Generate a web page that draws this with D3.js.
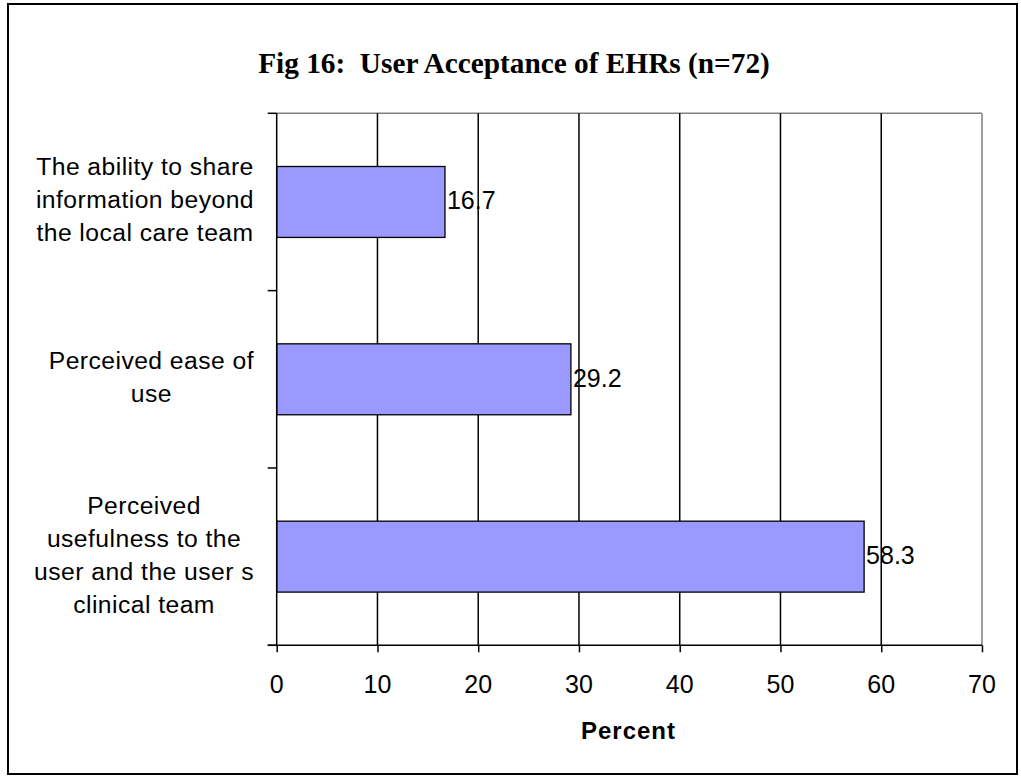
<!DOCTYPE html>
<html>
<head>
<meta charset="utf-8">
<script src="https://cdn.jsdelivr.net/npm/d3@7"></script>
<style>
  html, body { margin: 0; padding: 0; background: #fff; }
  svg { display: block; }
  text { white-space: pre; }
</style>
</head>
<body>
<svg id="chart" width="1021" height="777"></svg>
<script>
const categories = [
  ["The ability to share", "information beyond", "the local care team"],
  ["Perceived ease of", "use"],
  ["Perceived", "usefulness to the", "user and the user s", "clinical team"]
];
const categoryKeys = ["share", "ease", "usefulness"];
const values = [16.7, 29.2, 58.3];
const xTicks = [0, 10, 20, 30, 40, 50, 60, 70];
const titleText = "Fig 16:  User Acceptance of EHRs (n=72)";
const xTitle = "Percent";

const svg = d3.select("#chart");
const W = 1021, H = 777;
svg.append("rect").attr("width", W).attr("height", H).attr("fill", "#fff");

// outer frame
svg.append("rect")
  .attr("x", 8).attr("y", 4).attr("width", 1009).attr("height", 770)
  .attr("fill", "none").attr("stroke", "#000").attr("stroke-width", 2);

const plot = { left: 276.7, right: 982, top: 113.3, bottom: 645.3 };

const x = d3.scaleLinear().domain([0, 70]).range([plot.left, plot.right]);
const y = d3.scaleBand().domain(categoryKeys).range([plot.top, plot.bottom])
  .paddingInner(0.6).paddingOuter(0.3);

// plot area border (gray top & right)
svg.append("line").attr("x1", plot.left).attr("x2", plot.right)
  .attr("y1", plot.top).attr("y2", plot.top).attr("stroke", "#808080").attr("stroke-width", 1.5);
svg.append("line").attr("x1", plot.right).attr("x2", plot.right)
  .attr("y1", plot.top).attr("y2", plot.bottom).attr("stroke", "#808080").attr("stroke-width", 1.5);

// gridlines
svg.append("g").selectAll("line").data(xTicks.filter(t => t > 0 && t < 70)).join("line")
  .attr("x1", d => x(d)).attr("x2", d => x(d))
  .attr("y1", plot.top).attr("y2", plot.bottom)
  .attr("stroke", "#000").attr("stroke-width", 1.5);

// bars
svg.append("g").selectAll("rect").data(values).join("rect")
  .attr("x", x(0))
  .attr("y", (d, i) => y(categoryKeys[i]))
  .attr("width", d => x(d) - x(0))
  .attr("height", y.bandwidth())
  .attr("fill", "#9999FF").attr("stroke", "#000").attr("stroke-width", 1.3);

// x axis
const xAxis = d3.axisBottom(x).tickValues(xTicks).tickSize(7).tickPadding(0).tickFormat(d3.format("d"));
const gx = svg.append("g").attr("transform", `translate(0,${plot.bottom})`).call(xAxis);
gx.select(".domain").remove();
gx.selectAll(".tick line").attr("stroke", "#000").attr("stroke-width", 1.5);
gx.selectAll(".tick text").remove();
svg.append("line").attr("x1", plot.left - 9).attr("x2", plot.right)
  .attr("y1", plot.bottom).attr("y2", plot.bottom).attr("stroke", "#000").attr("stroke-width", 1.5);
svg.append("g").selectAll("text").data(xTicks).join("text")
  .attr("x", d => x(d)).attr("y", 693)
  .attr("text-anchor", "middle")
  .attr("font-family", "Liberation Sans, Arial, sans-serif")
  .attr("font-size", 25).attr("fill", "#000")
  .text(d => d);

// y axis line + ticks at category boundaries
svg.append("line").attr("x1", plot.left).attr("x2", plot.left)
  .attr("y1", plot.top).attr("y2", plot.bottom).attr("stroke", "#000").attr("stroke-width", 1.5);
const boundaries = d3.range(categoryKeys.length + 1).map(i => plot.top + i * (plot.bottom - plot.top) / categoryKeys.length);
svg.append("g").selectAll("line").data(boundaries).join("line")
  .attr("x1", plot.left - 9).attr("x2", plot.left)
  .attr("y1", d => d).attr("y2", d => d)
  .attr("stroke", "#000").attr("stroke-width", 1.5);

// category labels (lines centered inside a right-aligned block)
const lineH = 33;
const labelRight = 254;
categories.forEach((lines, i) => {
  const cy = y(categoryKeys[i]) + y.bandwidth() / 2;
  const g = svg.append("g");
  const texts = g.selectAll("text").data(lines).join("text")
    .attr("font-family", "Liberation Sans, Arial, sans-serif")
    .attr("font-size", 24.7).attr("letter-spacing", 0.45).attr("fill", "#000")
    .attr("text-anchor", "middle")
    .attr("y", (d, j) => cy + (j - (lines.length - 1) / 2) * lineH + 6.5)
    .text(d => d);
  let maxW = 0;
  texts.each(function () { maxW = Math.max(maxW, this.getComputedTextLength()); });
  texts.attr("x", labelRight - maxW / 2);
});

// value labels
svg.append("g").selectAll("text").data(values).join("text")
  .attr("x", d => x(d) + 2)
  .attr("y", (d, i) => y(categoryKeys[i]) + y.bandwidth() / 2 + 7.5)
  .attr("font-family", "Liberation Sans, Arial, sans-serif")
  .attr("font-size", 25).attr("fill", "#000")
  .text(d => d.toFixed(1));

// title
svg.append("text")
  .attr("x", 514).attr("y", 73)
  .attr("text-anchor", "middle")
  .attr("font-family", "Liberation Serif, Times New Roman, serif")
  .attr("font-weight", "bold").attr("font-size", 29.3)
  .attr("fill", "#000")
  .text(titleText);

// x title
svg.append("text")
  .attr("x", 628.5).attr("y", 739)
  .attr("text-anchor", "middle")
  .attr("font-family", "Liberation Sans, Arial, sans-serif")
  .attr("font-weight", "bold").attr("font-size", 24)
  .attr("letter-spacing", 1)
  .attr("fill", "#000")
  .text(xTitle);
</script>
</body>
</html>
